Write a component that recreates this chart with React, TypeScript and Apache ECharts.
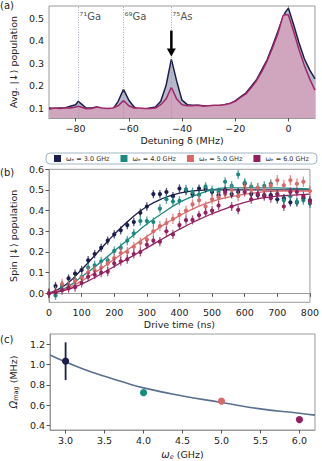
import React, { useEffect, useRef } from "react";
import * as echarts from "echarts";

// ---------- Panel (a) data ----------
const aDetuning = [-90,-88,-86,-84,-82,-80,-79,-78,-76,-74,-72,-70,-68,-66,-64,-62,-60,-58,-56,-54,-52,-50,-48,-46,-44,-42,-40,-38,-36,-34,-32,-30,-28,-26,-24,-22,-20,-18,-16,-14,-12,-10,-8,-6,-4,-2,-1,0,2,4,6,8,10];
const aNavy = [0.10,0.098,0.10,0.10,0.108,0.115,0.13,0.12,0.10,0.10,0.105,0.092,0.092,0.095,0.13,0.183,0.135,0.105,0.092,0.095,0.10,0.105,0.13,0.20,0.318,0.22,0.135,0.115,0.113,0.113,0.11,0.108,0.11,0.11,0.115,0.12,0.132,0.15,0.167,0.196,0.226,0.27,0.315,0.375,0.44,0.507,0.53,0.545,0.47,0.39,0.32,0.27,0.23];
const aMagenta = [0.095,0.10,0.098,0.10,0.10,0.105,0.108,0.105,0.097,0.098,0.105,0.10,0.098,0.10,0.11,0.133,0.11,0.10,0.10,0.098,0.098,0.10,0.115,0.14,0.193,0.14,0.115,0.11,0.11,0.112,0.108,0.11,0.112,0.112,0.115,0.12,0.13,0.147,0.163,0.19,0.222,0.262,0.31,0.368,0.43,0.512,0.517,0.515,0.44,0.36,0.29,0.23,0.18];
const aIsotopeX = [-79, -62, -44];
const aIsotopeLabels = ["\u2077\u00B9Ga", "\u2076\u2079Ga", "\u2077\u2075As"];
const aLabelY = 0.506;
const aArrowX = -44;
const aArrowTop = 0.445;
const aArrowTip = 0.33;
const aXTicks = [-80, -60, -40, -20, 0];
const aYTicks = [0.1, 0.2, 0.3, 0.4, 0.5];

// ---------- Panel (b) data ----------
const bTime = [0,20,40,60,80,100,120,140,160,180,200,220,240,260,280,300,320,340,360,380,400,420,440,460,480,500,520,540,560,580,600,620,640,660,680,700,720,740,760,780,800];
const bNames = ["\u03C9\u2091 = 3.0 GHz", "\u03C9\u2091 = 4.0 GHz", "\u03C9\u2091 = 5.0 GHz", "\u03C9\u2091 = 6.0 GHz"];
const b30 = [0.0,0.035,0.04,0.072,0.095,0.113,0.16,0.19,0.22,0.255,0.285,0.305,0.33,0.345,0.39,0.42,0.48,0.48,0.49,0.47,0.507,0.495,0.48,0.507,0.507,0.49,0.475,0.5,0.48,0.49,0.53,0.48,0.475,0.475,0.475,0.455,0.46,0.44,0.44,0.46,0.45];
const b40 = [0.0,-0.01,0.035,0.04,0.065,0.08,0.125,0.135,0.155,0.16,0.205,0.22,0.255,0.29,0.35,0.35,0.345,0.41,0.455,0.444,0.448,0.503,0.49,0.476,0.516,0.5,0.49,0.54,0.52,0.575,0.535,0.516,0.51,0.52,0.53,0.48,0.45,0.47,0.443,0.45,0.435];
const b50 = [0.0,0.01,0.045,0.035,0.06,0.075,0.1,0.11,0.125,0.145,0.17,0.195,0.2,0.225,0.245,0.26,0.3,0.325,0.34,0.36,0.38,0.40,0.43,0.45,0.42,0.455,0.465,0.48,0.5,0.47,0.51,0.5,0.51,0.5,0.52,0.547,0.523,0.547,0.53,0.54,0.495];
const b60 = [0.0,0.005,0.015,0.025,0.03,0.05,0.08,0.09,0.1,0.105,0.145,0.155,0.165,0.19,0.2,0.235,0.255,0.25,0.3,0.285,0.33,0.354,0.355,0.378,0.39,0.4,0.425,0.49,0.42,0.404,0.49,0.455,0.48,0.47,0.46,0.48,0.42,0.49,0.49,0.47,0.445];
const bErr = [0.02, 0.022, 0.025, 0.022];
const bFitTime = [0,50,100,150,200,250,300,350,400,450,500,550,600,650,700,750,800];
const bFit30 = [0,0.04,0.115,0.2,0.285,0.36,0.42,0.46,0.485,0.497,0.5,0.5,0.5,0.5,0.5,0.5,0.5];
const bFit40 = [0,0.025,0.08,0.14,0.205,0.27,0.335,0.39,0.44,0.475,0.5,0.51,0.51,0.51,0.51,0.507,0.505];
const bFit50 = [0,0.02,0.06,0.11,0.165,0.22,0.275,0.33,0.375,0.415,0.445,0.465,0.48,0.49,0.495,0.495,0.495];
const bFit60 = [0,0.015,0.045,0.085,0.13,0.175,0.22,0.265,0.31,0.35,0.385,0.415,0.44,0.46,0.47,0.475,0.48];
const bXTicks = [0, 100, 200, 300, 400, 500, 600, 700, 800];
const bYTicks = [0, 0.1, 0.2, 0.3, 0.4, 0.5, 0.6];

// ---------- Panel (c) data ----------
const cOmegaE = [3.0, 4.0, 5.0, 6.0];
const cOmegaMag = [1.034, 0.723, 0.638, 0.456];
const cErr = [0.187, 0.01, 0.025, 0.03];
const cFitX = [2.8, 3.0, 3.25, 3.5, 3.75, 4.0, 4.5, 5.0, 5.5, 6.0, 6.2];
const cFitY = [1.096, 1.027, 0.95, 0.886, 0.825, 0.77, 0.69, 0.626, 0.562, 0.519, 0.50];
const cXTicks = [3.0, 3.5, 4.0, 4.5, 5.0, 5.5, 6.0];
const cYTicks = [0.4, 0.6, 0.8, 1.0, 1.2];

const COLORS = ["#1c1e4e", "#1a8a80", "#d9696a", "#922060"];
const FONT = "DejaVu Sans";
const TXT = "#222";
const FRAME = "#9a9a9a";

export default function App() {
  const ref = useRef<HTMLDivElement>(null);
  useEffect(() => {
    if (!ref.current) return;
    const chart = echarts.init(ref.current, null, { renderer: "svg" });

    const fmt1 = (v: number) => v.toFixed(1);
    const fmtMinus = (v: number) => (v < 0 ? "\u2212" + Math.abs(v) : String(v));
    const nameStyle = { color: TXT, fontSize: 9.5, fontFamily: FONT, fontWeight: "normal" as const };

    const axisCommon = (gridIndex: number, min: number, max: number, ticks: number[], formatter: (v: number) => string) => ({
      type: "value",
      gridIndex,
      min,
      max,
      splitLine: { show: false },
      axisLine: { show: true, lineStyle: { color: FRAME, width: 1 } },
      axisTick: { show: true, length: 3.5, lineStyle: { color: "#555" }, customValues: ticks },
      axisLabel: { color: TXT, fontSize: 9.5, fontFamily: FONT, margin: 5, customValues: ticks, formatter },
      nameTextStyle: nameStyle,
    });

    const errRender = (errs: number[], r: number, lw: number, alpha: number) => (params: any, api: any) => {
      const x = api.value(0);
      const y = api.value(1);
      const e = errs.length === 1 ? errs[0] : errs[params.dataIndex];
      const p = api.coord([x, y]);
      const t = api.coord([x, y + e]);
      const b = api.coord([x, y - e]);
      const color = api.visual("color");
      return {
        type: "group",
        children: [
          { type: "line", shape: { x1: p[0], y1: t[1], x2: p[0], y2: b[1] }, style: { stroke: color, lineWidth: lw, opacity: alpha } },
          { type: "circle", shape: { cx: p[0], cy: p[1], r }, style: { fill: color } },
        ],
      };
    };

    const arrowRender = (params: any, api: any) => {
      const top = api.coord([api.value(0), api.value(1)]);
      const tip = api.coord([api.value(0), api.value(2)]);
      const headLen = 8;
      const headHalf = 4.5;
      return {
        type: "group",
        children: [
          { type: "line", shape: { x1: top[0], y1: top[1], x2: tip[0], y2: tip[1] - headLen + 1 }, style: { stroke: "#000", lineWidth: 2.5 } },
          { type: "polygon", shape: { points: [[tip[0] - headHalf, tip[1] - headLen], [tip[0] + headHalf, tip[1] - headLen], [tip[0], tip[1]]] }, style: { fill: "#000" } },
        ],
      };
    };

    const bSets = [b30, b40, b50, b60];
    const bFits = [bFit30, bFit40, bFit50, bFit60];

    const series: any[] = [
      {
        type: "line", xAxisIndex: 0, yAxisIndex: 0,
        data: aDetuning.map((x, i) => [x, aNavy[i]]),
        showSymbol: false, lineStyle: { color: COLORS[0], width: 1.5 },
        areaStyle: { color: "#b6b9c9", opacity: 1, origin: "start" },
        z: 2,
      },
      {
        type: "line", xAxisIndex: 0, yAxisIndex: 0,
        data: aDetuning.map((x, i) => [x, aMagenta[i]]),
        showSymbol: false, lineStyle: { color: "#a0286a", width: 1.5 },
        areaStyle: { color: "#d0a5be", opacity: 1, origin: "start" },
        z: 3,
      },
      {
        type: "scatter", xAxisIndex: 0, yAxisIndex: 0, symbolSize: 0, z: 4,
        data: aIsotopeX.map((x, i) => [x, aLabelY, aIsotopeLabels[i]]),
        label: { show: true, position: "right", distance: 1, formatter: (p: any) => p.value[2], color: TXT, fontSize: 10, fontFamily: FONT },
        markLine: {
          silent: true, symbol: "none",
          lineStyle: { type: [1, 1.5], color: "#8c97ab", width: 0.8 },
          label: { show: false },
          data: aIsotopeX.map((x) => ({ xAxis: x })),
        },
      },
      {
        type: "custom", xAxisIndex: 0, yAxisIndex: 0, z: 5,
        renderItem: arrowRender,
        data: [[aArrowX, aArrowTop, aArrowTip]],
      },
    ];

    bSets.forEach((set, k) => {
      series.push({
        type: "line", xAxisIndex: 1, yAxisIndex: 1,
        data: bFitTime.map((t, i) => [t, bFits[k][i]]),
        smooth: true, showSymbol: false, lineStyle: { color: COLORS[k], width: 1.3 }, z: 2,
      });
    });
    bSets.forEach((set, k) => {
      series.push({
        type: "custom", name: bNames[k], xAxisIndex: 1, yAxisIndex: 1,
        itemStyle: { color: COLORS[k] },
        renderItem: errRender([bErr[k]], 2.1, 1.3, 0.75),
        data: bTime.map((t, i) => [t, set[i]]),
        z: 3,
      });
    });

    series.push({
      type: "line", xAxisIndex: 2, yAxisIndex: 2,
      data: cFitX.map((x, i) => [x, cFitY[i]]),
      smooth: true, showSymbol: false, lineStyle: { color: "#5b7090", width: 1.6 }, z: 2,
    });
    series.push({
      type: "custom", xAxisIndex: 2, yAxisIndex: 2,
      renderItem: errRender(cErr, 3.6, 1.8, 1),
      data: cOmegaE.map((x, i) => ({ value: [x, cOmegaMag[i]], itemStyle: { color: COLORS[i] } })),
      z: 3,
    });

    const richName = (main: string) => ({
      ...nameStyle,
      rich: {
        it: { fontStyle: "italic", fontSize: 10, fontFamily: FONT, color: TXT },
        sub: { fontStyle: main === "w" ? "italic" : "normal", fontSize: 6.5, fontFamily: FONT, color: TXT, verticalAlign: "bottom", padding: [5, 0, 0, 0] },
      },
    });

    const option: any = {
      animation: false,
      textStyle: { fontFamily: FONT },
      grid: [
        { left: 44, width: 271, top: 6, height: 112, show: true, borderColor: FRAME, borderWidth: 1 },
        { left: 44, width: 271, top: 169.3, height: 133, show: true, borderColor: FRAME, borderWidth: 1 },
        { left: 44, width: 271, top: 334, height: 101, show: true, borderColor: FRAME, borderWidth: 1 },
      ],
      xAxis: [
        { ...axisCommon(0, -90, 10, aXTicks, fmtMinus), name: "Detuning \u03B4 (MHz)", nameLocation: "middle", nameGap: 17 },
        { ...axisCommon(1, 0, 800, bXTicks, (v: number) => String(v)), name: "Drive time (ns)", nameLocation: "middle", nameGap: 17 },
        { ...axisCommon(2, 2.8, 6.2, cXTicks, fmt1), name: "{it|\u03C9}{sub|e} (GHz)", nameLocation: "middle", nameGap: 18, nameTextStyle: richName("w") },
      ],
      yAxis: [
        { ...axisCommon(0, 0.0556, 0.555, aYTicks, fmt1), name: "Avg. |\u2193\u27E9 population", nameLocation: "middle", nameGap: 26 },
        { ...axisCommon(1, -0.0435, 0.6, bYTicks, fmt1), name: "Spin |\u2193\u27E9 population", nameLocation: "middle", nameGap: 26 },
        { ...axisCommon(2, 0.353, 1.3035, cYTicks, fmt1), name: "{it|\u03A9}{sub|mag} (MHz)", nameLocation: "middle", nameGap: 26, nameTextStyle: richName("O") },
      ],
      legend: {
        data: bNames,
        left: 46, top: 153,
        icon: "rect", itemWidth: 7, itemHeight: 7, itemGap: 11,
        padding: [2, 8], borderColor: "#9fb6c3", borderWidth: 1, borderRadius: 4,
        textStyle: { fontSize: 6.5, color: "#333", fontFamily: FONT },
      },
      graphic: [
        { type: "text", left: 0, top: 0, style: { text: "(a)", fontSize: 10, fontFamily: FONT, fill: TXT } },
        { type: "text", left: 0, top: 167, style: { text: "(b)", fontSize: 10, fontFamily: FONT, fill: TXT } },
        { type: "text", left: 0, top: 334, style: { text: "(c)", fontSize: 10, fontFamily: FONT, fill: TXT } },
      ],
      series,
    };

    chart.setOption(option);
    return () => chart.dispose();
  }, []);

  return <div ref={ref} style={{ width: 322, height: 461, position: "absolute", left: 0, top: 0 }} />;
}
